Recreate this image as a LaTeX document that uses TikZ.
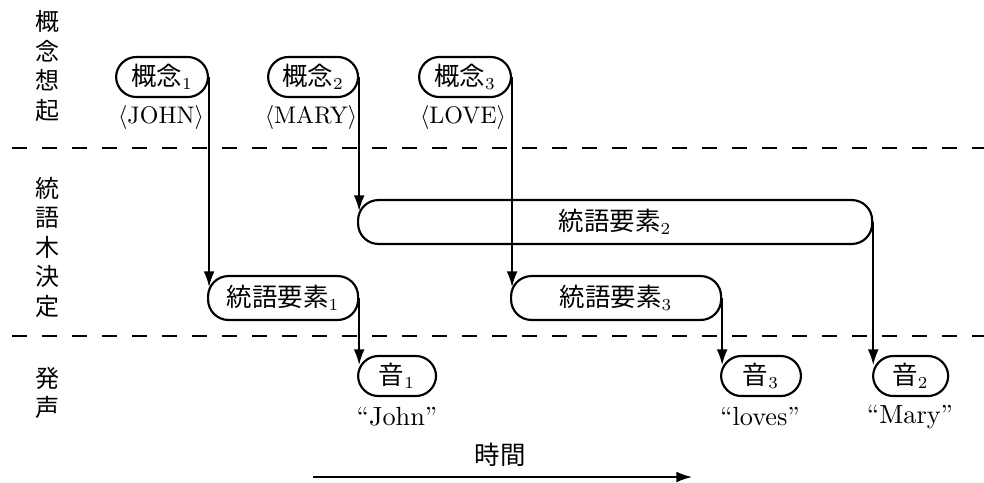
\documentclass[tikz,border=0pt]{standalone}
\usepackage{fontspec}
\newfontfamily\cjk{Noto Sans CJK JP}
\usetikzlibrary{arrows.meta,calc}
\begin{document}
\begin{tikzpicture}[x=0.41667pt,y=-0.41667pt,
  box/.style={draw,line width=0.9pt,rounded corners=8.5pt,anchor=west,inner sep=0pt,font={\cjk\fontsize{10.6}{12}\selectfont}},
  arr/.style={line width=0.75pt,-{Latex[length=6.5pt,width=4.5pt]}},
  sep/.style={line width=0.8pt,dash pattern=on 6.25pt off 6.25pt},
  vlab/.style={font={\cjk\fontsize{10}{12.3}\selectfont},align=center,inner sep=0pt},
  lab/.style={inner sep=0pt,font=\fontsize{10.95}{13}\selectfont},
  clab/.style={inner sep=0pt,font=\fontsize{10}{12}\selectfont}]
\useasboundingbox (0,0) rectangle (984,482);
% separators
\coordinate (l1a) at (12,148); \coordinate (l1b) at (984,148);
\coordinate (l2a) at (12,336); \coordinate (l2b) at (984,336);
\draw[sep] (l1a) -- (l1b);
\draw[sep] (l2a) -- (l2b);
% side labels
\node[vlab] (g1) at (47,66) {概\\念\\想\\起};
\node[vlab] (g2) at (47,247) {統\\語\\木\\決\\定};
\node[vlab] (g3) at (47,393) {発\\声};
% concepts
\node[box,minimum width=38.3pt,minimum height=16.7pt] (c1) at (115,77) {概念$_1$};
\node[box,minimum width=37.5pt,minimum height=16.7pt] (c2) at (267,77) {概念$_2$};
\node[box,minimum width=38.3pt,minimum height=16.7pt] (c3) at (418,77) {概念$_3$};
\node[clab] (t1) at (161,117) {$\langle$JOHN$\rangle$};
\node[clab] (t2) at (311,117) {$\langle$MARY$\rangle$};
\node[clab] (t3) at (463,117) {$\langle$LOVE$\rangle$};
% syntactic elements
\node[box,minimum width=62.5pt,minimum height=18.3pt] (s1) at (207,298) {統語要素$_1$};
\node[box,minimum width=214.2pt,minimum height=18.3pt] (s2) at (357,222) {統語要素$_2$};
\node[box,minimum width=87.5pt,minimum height=18.3pt] (s3) at (510,298) {統語要素$_3$};
% sounds
\node[box,minimum width=32.5pt,minimum height=16.7pt] (o1) at (357,376) {音$_1$};
\node[box,minimum width=33.3pt,minimum height=16.7pt] (o3) at (720,376) {音$_3$};
\node[box,minimum width=31.3pt,minimum height=16.7pt] (o2) at (872,376) {音$_2$};
\node[lab] (w1) at (397,417) {``John''};
\node[lab] (w3) at (760,417) {``loves''};
\node[lab] (w2) at (910,417) {``Mary''};
% connectors
\draw[arr] (c1.east) -- ($(c1.east |- s1.west)+(0,-11)$);
\draw[arr] (c2.east) -- ($(c2.east |- s2.west)+(0,-11)$);
\draw[arr] (c3.east) -- ($(c3.east |- s3.west)+(0,-11)$);
\draw[arr] (s1.east) -- ($(s1.east |- o1.west)+(0,-11)$);
\draw[arr] (s3.east) -- ($(s3.east |- o3.west)+(0,-11)$);
\draw[arr] (s2.east) -- ($(s2.east |- o2.west)+(0,-11)$);
% time
\node[lab,font={\cjk\fontsize{10.6}{12}\selectfont}] (time) at (500,455) {時間};
\coordinate (ta) at (313,477); \coordinate (tb) at (692,477);
\draw[arr] (ta) -- (tb);
\end{tikzpicture}
\end{document}
